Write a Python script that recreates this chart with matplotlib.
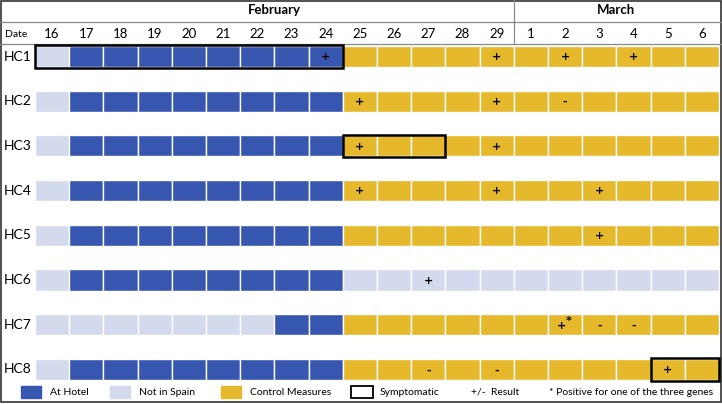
import matplotlib.pyplot as plt
from matplotlib.patches import Rectangle

plt.rcParams['font.family'] = ['Lato', 'DejaVu Sans']

# data
dates = ['16', '17', '18', '19', '20', '21', '22', '23', '24', '25', '26', '27', '28', '29',
         '1', '2', '3', '4', '5', '6']
months = ['February', 'March']
month_first_col = [0, 14]
patients = ['HC1', 'HC2', 'HC3', 'HC4', 'HC5', 'HC6', 'HC7', 'HC8']
# N = not in Spain, H = at hotel, C = control measures
status = [
    'NHHHHHHHHCCCCCCCCCCC',
    'NHHHHHHHHCCCCCCCCCCC',
    'NHHHHHHHHCCCCCCCCCCC',
    'NHHHHHHHHCCCCCCCCCCC',
    'NHHHHHHHHCCCCCCCCCCC',
    'NHHHHHHHHNNNNNNNNNNN',
    'NNNNNNNHHCCCCCCCCCCC',
    'NHHHHHHHHCCCCCCCCCCC',
]
# (patient, column of date, result)
results = [
    ('HC1', 8, '+'), ('HC1', 13, '+'), ('HC1', 15, '+'), ('HC1', 17, '+'),
    ('HC2', 9, '+'), ('HC2', 13, '+'), ('HC2', 15, '-'),
    ('HC3', 9, '+'), ('HC3', 13, '+'),
    ('HC4', 9, '+'), ('HC4', 13, '+'), ('HC4', 16, '+'),
    ('HC5', 16, '+'),
    ('HC6', 11, '+'),
    ('HC7', 15, '+*'), ('HC7', 16, '-'), ('HC7', 17, '-'),
    ('HC8', 11, '-'), ('HC8', 13, '-'), ('HC8', 18, '+'),
]
# symptomatic periods: (patient, first column, last column)
symptomatic = [('HC1', 0, 8), ('HC3', 9, 11), ('HC8', 18, 19)]

colors = {'H': '#3656b0', 'N': '#d4daee', 'C': '#e6b82b'}
labels = {'H': 'At Hotel', 'N': 'Not in Spain', 'C': 'Control Measures'}

fig = plt.figure(figsize=(7.22, 4.04), dpi=100)
ax = fig.add_axes([0, 0, 1, 1])
colw = 34.2
rowh = 44.7
ax.set_xlim(-35 / colw, 687 / colw)
ax.set_ylim((404 - 56.5) / rowh, -56.5 / rowh)
ax.axis('off')

for i, row in enumerate(status):
    ax.barh([i] * len(row), [1] * len(row), left=range(len(row)), height=0.47,
            color=[colors[c] for c in row], edgecolor='white', linewidth=1, align='center')
    ax.text(-35 / colw + 0.12, i, patients[i], ha='left', va='center', fontsize=10)

res_font = dict(ha='center', va='center', fontsize=8, fontweight='bold', family='DejaVu Sans')
for p, col, res in results:
    i = patients.index(p)
    if res == '+*':
        ax.text(col + 0.4, i + 0.02, '+', **res_font)
        ax.text(col + 0.6, i - 0.08, '*', **res_font)
    else:
        ax.text(col + 0.5, i + 0.02, res, **res_font)

for p, c0, c1 in symptomatic:
    i = patients.index(p)
    ax.add_patch(Rectangle((c0, i - 0.25), c1 - c0 + 1, 0.5, fill=False,
                           edgecolor='black', linewidth=1.8, zorder=5))

# header
y_month = (10 - 56.5) / rowh
y_date = (34 - 56.5) / rowh
line1 = (22 - 56.5) / rowh
line2 = (44 - 56.5) / rowh
ax.text(-35 / colw + 0.15, y_date, 'Date', ha='left', va='center', fontsize=7.5)
for j, d in enumerate(dates):
    ax.text(j + 0.5, y_date, d, ha='center', va='center', fontsize=9.5)
ends = month_first_col[1:] + [len(dates)]
for m, s, e in zip(months, month_first_col, ends):
    ax.text((s + e) / 2, y_month, m, ha='center', va='center', fontsize=9.5, fontweight='bold')
ax.axhline(line1, color='#888888', linewidth=0.9)
ax.axhline(line2, color='#888888', linewidth=0.9)
ax.plot([month_first_col[1], month_first_col[1]], [ax.get_ylim()[1], line2], color='#888888', linewidth=0.9)

# legend
y_leg = (392 - 56.5) / rowh
leg_x = [(21 - 35) / colw, (110 - 35) / colw, (221 - 35) / colw]
for x0, key in zip(leg_x, ['H', 'N', 'C']):
    ax.add_patch(Rectangle((x0, y_leg - 0.13), 20 / colw, 0.26, color=colors[key]))
    ax.text(x0 + 29 / colw, y_leg, labels[key], ha='left', va='center', fontsize=7.5)
xs = (351 - 35) / colw
ax.add_patch(Rectangle((xs, y_leg - 0.13), 22 / colw, 0.26, fill=False, edgecolor='black', linewidth=1.3))
ax.text(xs + 29 / colw, y_leg, 'Symptomatic', ha='left', va='center', fontsize=7.5)
ax.text((471 - 35) / colw, y_leg, '+/-  Result', ha='left', va='center', fontsize=7.5)
ax.text((549 - 35) / colw, y_leg, '* Positive for one of the three genes', ha='left', va='center', fontsize=7.5)

# frame
ax.add_patch(Rectangle((0.001, 0.004), 0.997, 0.994, transform=ax.transAxes, fill=False,
                       edgecolor='#333333', linewidth=1.2))

fig.savefig('out.png', dpi=100)
